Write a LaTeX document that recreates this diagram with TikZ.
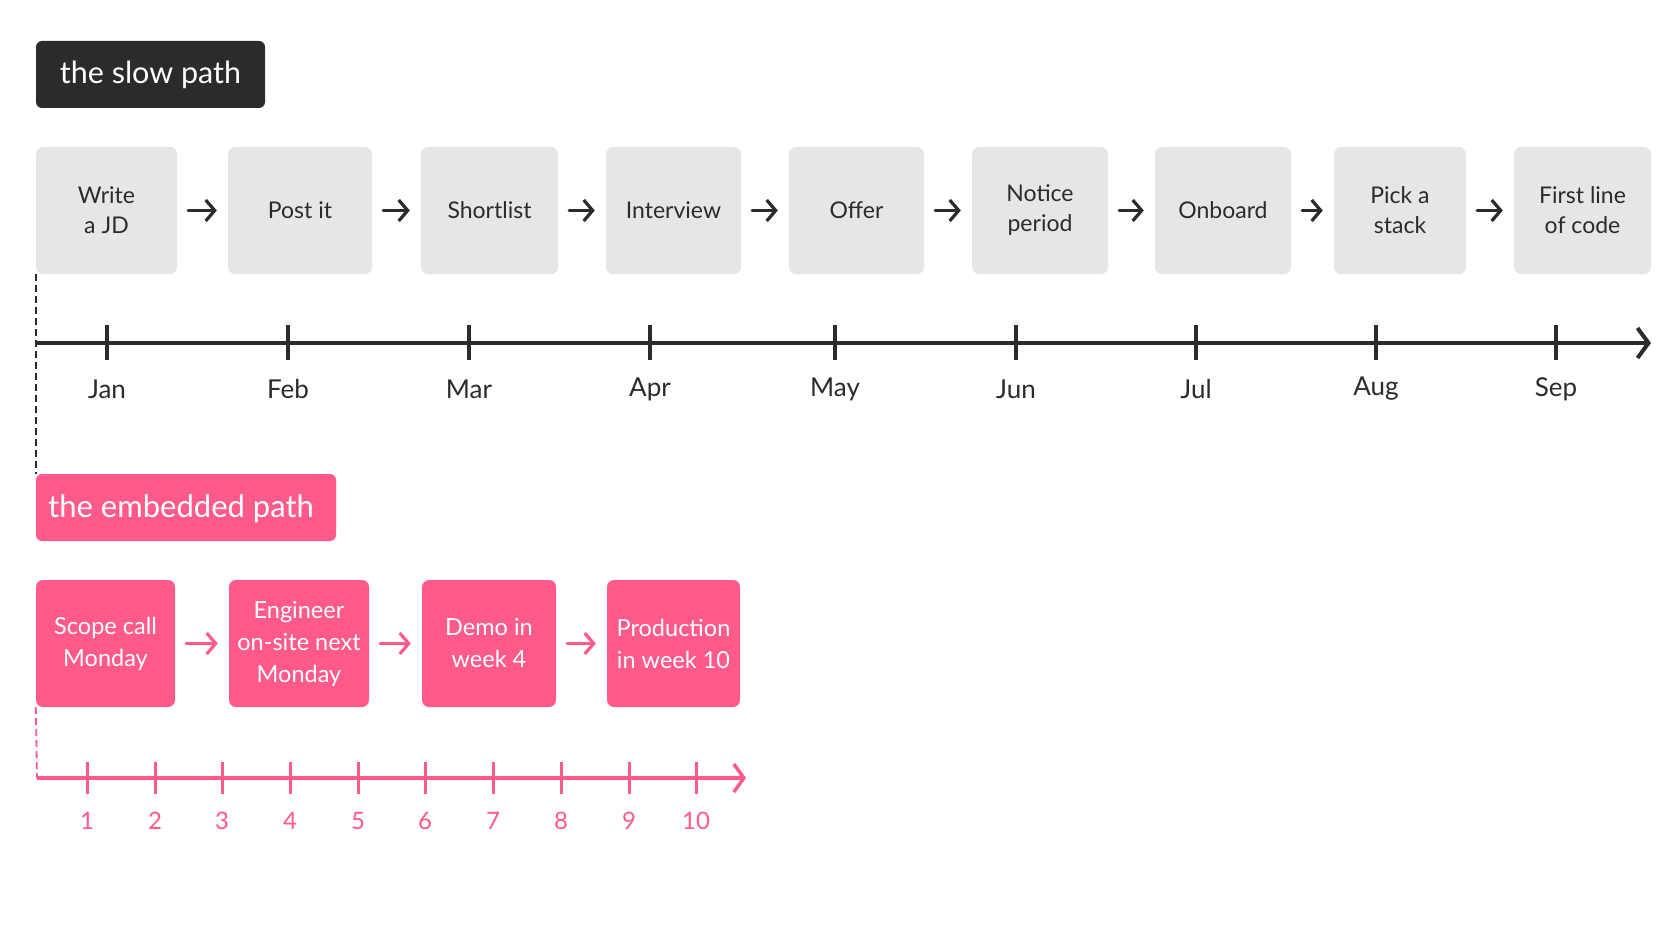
\documentclass[tikz,border=0pt]{standalone}
\usepackage{fontspec}
\setmainfont{Lato}
\usetikzlibrary{arrows.meta}
\definecolor{ink}{HTML}{2B2B2B}
\definecolor{boxgray}{HTML}{E6E6E6}
\definecolor{hot}{HTML}{FF5A89}
\tikzset{
  gbox/.style={fill=boxgray, rounded corners=7pt, minimum height=127pt, inner sep=0pt, align=center, text=ink, font=\fontsize{23}{30}\selectfont},
  pbox/.style={fill=hot, rounded corners=7pt, minimum height=127pt, inner sep=0pt, align=center, text=white, font=\fontsize{23.5}{32}\selectfont},
  flow/.style={draw=ink, line width=3.2pt, line cap=round, -{Straight Barb[length=9pt,width=21pt,line width=3.2pt]}, shorten >=11pt, shorten <=11pt},
  pflow/.style={draw=hot, line width=3.2pt, line cap=round, -{Straight Barb[length=9pt,width=21pt,line width=3.2pt]}, shorten >=11pt, shorten <=11pt},
  mlabel/.style={text=ink, font=\fontsize{26}{30}\selectfont},
  nlabel/.style={text=hot, font=\fontsize{24}{28}\selectfont},
}
\begin{document}
\begin{tikzpicture}[x=1pt,y=-1pt]
\useasboundingbox[fill=white] (0,0) rectangle (1672,941);
% titles
\node[fill=ink, rounded corners=6pt, minimum width=229pt, minimum height=67pt, text=white, font=\fontsize{30.5}{34}\selectfont] (slow) at (150.5,74.5) {the slow path};
\node[fill=hot, rounded corners=6pt, minimum width=300pt, minimum height=67pt, inner sep=0pt] (emb) at (186,507.5) {};
\node[anchor=west, text=white, font=\fontsize{31}{34}\selectfont, inner sep=0pt] (embt) at (48,509) {the embedded path};
% slow path boxes
\node[gbox, minimum width=141pt] (s1) at (106.5,210.5) {Write\\a JD};
\node[gbox, minimum width=144pt] (s2) at (300,210.5) {Post it};
\node[gbox, minimum width=137pt] (s3) at (489.5,210.5) {Shortlist};
\node[gbox, minimum width=135pt] (s4) at (673.5,210.5) {Interview};
\node[gbox, minimum width=135pt] (s5) at (856.5,210.5) {Offer};
\node[gbox, minimum width=136pt] (s6) at (1040,210.5) {Notice\\period};
\node[gbox, minimum width=136pt] (s7) at (1223,210.5) {Onboard};
\node[gbox, minimum width=132pt] (s8) at (1400,210.5) {Pick a\\stack};
\node[gbox, minimum width=137pt] (s9) at (1582.5,210.5) {First line\\of code};
\foreach \a/\b in {s1/s2,s2/s3,s3/s4,s4/s5,s5/s6,s6/s7,s7/s8,s8/s9}
  \draw[flow] (\a) -- (\b);
% slow timeline
\coordinate (ax0) at (37,343);
\coordinate (ax1) at (1651,343);
\draw[ink, line width=4pt, -{Straight Barb[length=11pt,width=30pt,line width=4pt]}, line cap=butt] (ax0) -- (ax1);
\foreach \x/\m in {107/Jan,288/Feb,469/Mar,650/Apr,835/May,1016/Jun,1196/Jul,1376/Aug,1556/Sep}{
  \draw[ink, line width=3.5pt] (\x,325) -- (\x,360);
  \node[mlabel] (m\m) at (\x,389) {\m};
}
\draw[ink, line width=1.8pt, dash pattern=on 7pt off 4pt] (s1.south west) -- (emb.north west);
% embedded boxes
\node[pbox, minimum width=139pt] (p1) at (105.5,643.5) {Scope call\\Monday};
\node[pbox, minimum width=140pt] (p2) at (299,643.5) {Engineer\\on-site next\\Monday};
\node[pbox, minimum width=134pt] (p3) at (489,643.5) {Demo in\\week 4};
\node[pbox, minimum width=133pt] (p4) at (673.5,643.5) {Production\\in week 10};
\foreach \a/\b in {p1/p2,p2/p3,p3/p4}
  \draw[pflow] (\a) -- (\b);
% embedded timeline
\coordinate (bx0) at (37,778);
\coordinate (bx1) at (746,778);
\draw[hot, line width=1.8pt, dash pattern=on 7pt off 4pt] (p1.south west) -- (bx0);
\draw[hot, line width=3.5pt, -{Straight Barb[length=10pt,width=28pt,line width=3.5pt]}, line cap=butt] (bx0) -- (bx1);
\foreach \x/\n in {87/1,155/2,222/3,290/4,358/5,425/6,493/7,561/8,629/9,696/10}{
  \draw[hot, line width=3pt] (\x,762) -- (\x,794);
  \node[nlabel] (n\n) at (\x,821) {\n};
}
\end{tikzpicture}
\end{document}
